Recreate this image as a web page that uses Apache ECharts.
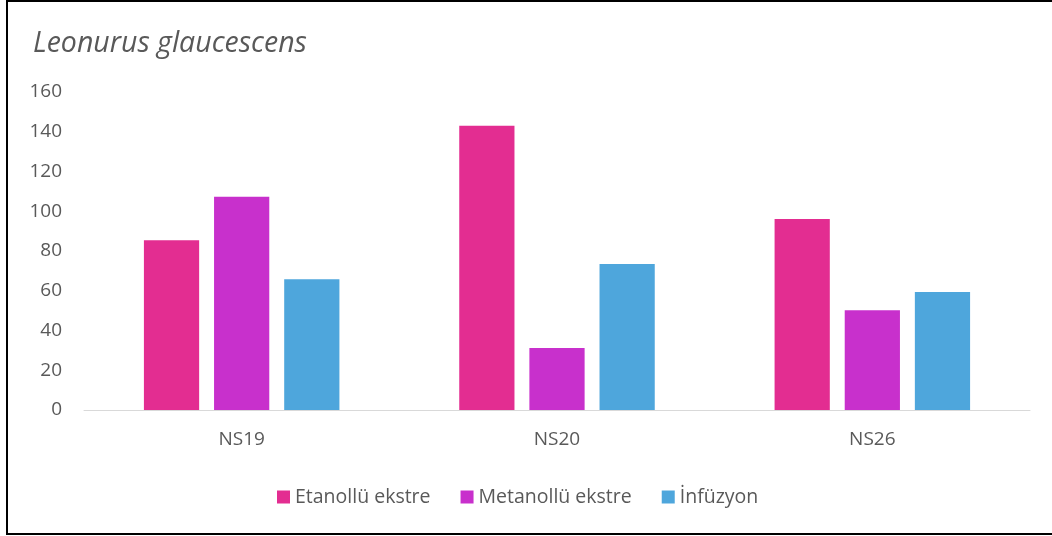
<!DOCTYPE html>
<html>
<head>
<meta charset="utf-8">
<script src="https://cdn.jsdelivr.net/npm/echarts@6/dist/echarts.min.js"></script>
<style>
html,body{margin:0;padding:0;background:#fff;}
#wrap{position:relative;width:1052px;height:536px;}
#chart{position:absolute;left:0;top:0;width:1052px;height:536px;}
#border{position:absolute;left:6px;top:0px;width:1046px;height:535px;box-sizing:border-box;border:2px solid #000;border-right:none;pointer-events:none;}
</style>
</head>
<body>
<div id="wrap"><div id="chart"></div><div id="border"></div></div>
<script>
const categories = ['NS19', 'NS20', 'NS26'];
const seriesNames = ['Etanollü ekstre', 'Metanollü ekstre', 'İnfüzyon'];
const etanollu = [85.4, 143.0, 96.1];
const metanollu = [107.3, 31.2, 50.2];
const infuzyon = [65.8, 73.5, 59.4];
const yTicks = { min: 0, max: 160, interval: 20 };
const colors = ['#E32D91', '#C830CC', '#4EA6DC'];

const font = '"Open Sans", sans-serif';
const chart = echarts.init(document.getElementById('chart'));
const values = [etanollu, metanollu, infuzyon];
chart.setOption({
  animation: false,
  backgroundColor: '#fff',
  title: {
    text: 'Leonurus glaucescens',
    left: 28, top: 24,
    textStyle: { fontFamily: font, fontStyle: 'italic', fontWeight: 'normal', fontSize: 28.5, color: '#595959' }
  },
  legend: {
    data: seriesNames,
    left: 272, top: 482,
    icon: 'rect', itemWidth: 13, itemHeight: 13, itemGap: 30,
    textStyle: { fontFamily: font, fontSize: 19.5, color: '#595959' }
  },
  grid: { left: 84, right: 22, top: 92, bottom: 126 },
  xAxis: {
    type: 'category', data: categories,
    axisTick: { show: false },
    axisLine: { lineStyle: { color: '#D9D9D9', width: 1 } },
    axisLabel: { margin: 20, fontFamily: font, fontSize: 19, color: '#595959' }
  },
  yAxis: {
    type: 'value', min: yTicks.min, max: yTicks.max, interval: yTicks.interval,
    splitLine: { show: false }, axisLine: { show: false }, axisTick: { show: false },
    axisLabel: { margin: 22, fontFamily: font, fontSize: 19, color: '#595959' }
  },
  series: seriesNames.map((n, i) => ({
    name: n, type: 'bar', data: values[i],
    barGap: '27%', barCategoryGap: '38%',
    itemStyle: { color: colors[i] }
  }))
});
</script>
</body>
</html>
